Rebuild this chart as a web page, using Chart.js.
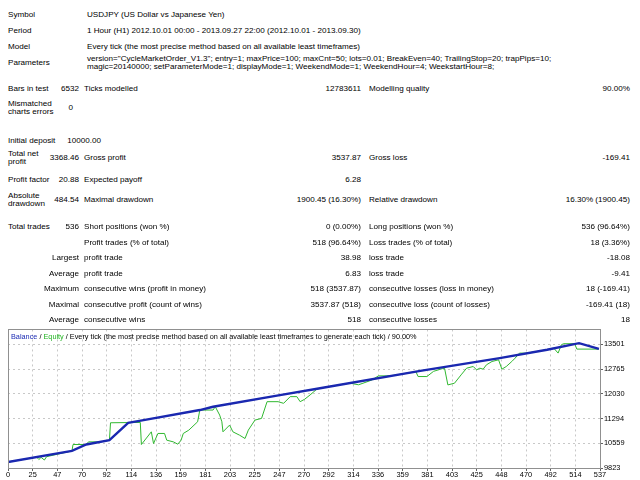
<!DOCTYPE html>
<html><head><meta charset="utf-8">
<script src="https://cdn.jsdelivr.net/npm/chart.js@4.4.1/dist/chart.umd.min.js"></script>
<style>
html,body{margin:0;padding:0;background:#fff;}
#page{position:relative;width:640px;height:480px;overflow:hidden;font-family:"Liberation Sans",Arial,sans-serif;font-size:8.1px;color:#000;}
.t{position:absolute;white-space:nowrap;line-height:10px;height:10px;}
#cv{position:absolute;left:0;top:324px;}
#title{position:absolute;left:11px;top:332px;font-size:7.3px;white-space:nowrap;line-height:10px;}
</style></head>
<body><div id="page"><canvas id="cv" width="640" height="156"></canvas>
<div id="title"><span style="color:#1c2cb4">Balance</span> / <span style="color:#22b422">Equity</span> / Every tick (the most precise method based on all available least timeframes to generate each tick) / 90.00%</div>
</div>
<script>
// ---- data ----
const xTickLabels = ["0","25","47","70","92","114","136","159","181","203","225","247","270","292","314","336","359","381","403","425","448","470","492","514","537"];
const yTickLabels = ["9823","10559","11294","12030","12765","13501"];
const balX = [0,58,71,92,109,123,174,186,244,283,374,446,489,518,536];
const balY = [10000,10331,10523,10651,11168,11249,11548,11647,11976,12197,12714,13094,13342,13538,13368];
const eqX = [0,20,24,26,28,30,33,35,58,59,71,73,84,92,93,120,121,130,132,136,142,144,150,154,157,159,164,172,174,186,188,192,194,195,201,204,210,215,218,224,230,235,245,250,256,262,265,269,274,280,283,310,313,318,322,330,336,343,350,370,372,380,386,394,396,399,405,411,416,422,425,428,431,434,439,445,448,452,457,460,464,470,489,495,499,502,504,514,516,536];
const eqY = [10000,10114,10137,10150,10075,10140,10060,10160,10331,10522,10523,10601,10601,10651,11169,11180,10522,10900,10552,10851,10851,10651,10601,10532,10651,10851,10950,11199,11548,11548,11648,11399,11199,10900,11100,10900,10801,10701,10950,11249,11299,11797,11797,11748,11947,11947,11797,11867,11997,12166,12197,12350,12330,12300,12346,12440,12565,12565,12580,12690,12545,12545,12700,12780,12794,12296,12346,12595,12794,12844,12744,12794,12764,12894,12993,13043,12764,12844,12993,13093,13243,13240,13342,13392,13243,13492,13522,13522,13362,13362];

// ---- table text ----
const page = document.getElementById('page');
function t(x, y, s, align){
  const d = document.createElement('div'); d.className='t'; d.textContent = s;
  d.style.top = (y-5)+'px';
  if(align==='r'){ d.style.right = (640-x)+'px'; } else { d.style.left = x+'px'; }
  page.appendChild(d);
}
const C0=8, C1=79, C2=84, C3=361, C4=369, C5=630, V=87;
t(C0,15,"Symbol"); t(V,15,"USDJPY (US Dollar vs Japanese Yen)");
t(C0,31,"Period"); t(V,31,"1 Hour (H1) 2012.10.01 00:00 - 2013.09.27 22:00 (2012.10.01 - 2013.09.30)");
t(C0,47,"Model"); t(V,47,"Every tick (the most precise method based on all available least timeframes)");
t(C0,63,"Parameters");
t(V,59,'version="CycleMarketOrder_V1.3"; entry=1; maxPrice=100; maxCnt=50; lots=0.01; BreakEven=40; TrailingStop=20; trapPips=10;');
t(V,67,'magic=20140000; setParameterMode=1; displayMode=1; WeekendMode=1; WeekendHour=4; WeekstartHour=8;');
t(C0,89,"Bars in test"); t(C1,89,"6532",'r'); t(C2,89,"Ticks modelled"); t(C3,89,"12783611",'r'); t(C4,89,"Modelling quality"); t(C5,89,"90.00%",'r');
t(C0,104,"Mismatched"); t(C0,112,"charts errors"); t(C1-6,108,"0",'r');
t(C0,141,"Initial deposit"); t(101,141,"10000.00",'r');
t(C0,154,"Total net"); t(C0,162,"profit"); t(C1,158,"3368.46",'r'); t(C2,158,"Gross profit"); t(C3,158,"3537.87",'r'); t(C4,158,"Gross loss"); t(C5,158,"-169.41",'r');
t(C0,180,"Profit factor"); t(C1,180,"20.88",'r'); t(C2,180,"Expected payoff"); t(C3,180,"6.28",'r');
t(C0,196,"Absolute"); t(C0,204,"drawdown"); t(C1,200,"484.54",'r'); t(C2,200,"Maximal drawdown"); t(C3,200,"1900.45 (16.30%)",'r'); t(C4,200,"Relative drawdown"); t(C5,200,"16.30% (1900.45)",'r');
t(C0,227,"Total trades"); t(C1,227,"536",'r'); t(C2,227,"Short positions (won %)"); t(C3,227,"0 (0.00%)",'r'); t(C4,227,"Long positions (won %)"); t(C5,227,"536 (96.64%)",'r');
t(C2,243,"Profit trades (% of total)"); t(C3,243,"518 (96.64%)",'r'); t(C4,243,"Loss trades (% of total)"); t(C5,243,"18 (3.36%)",'r');
t(C1,258,"Largest",'r'); t(C2,258,"profit trade"); t(C3,258,"38.98",'r'); t(C4,258,"loss trade"); t(C5,258,"-18.08",'r');
t(C1,274,"Average",'r'); t(C2,274,"profit trade"); t(C3,274,"6.83",'r'); t(C4,274,"loss trade"); t(C5,274,"-9.41",'r');
t(C1,289,"Maximum",'r'); t(C2,289,"consecutive wins (profit in money)"); t(C3,289,"518 (3537.87)",'r'); t(C4,289,"consecutive losses (loss in money)"); t(C5,289,"18 (-169.41)",'r');
t(C1,305,"Maximal",'r'); t(C2,305,"consecutive profit (count of wins)"); t(C3,305,"3537.87 (518)",'r'); t(C4,305,"consecutive loss (count of losses)"); t(C5,305,"-169.41 (18)",'r');
t(C1,320,"Average",'r'); t(C2,320,"consecutive wins"); t(C3,320,"518",'r'); t(C4,320,"consecutive losses"); t(C5,320,"18",'r');

// ---- chart ----
const X_MAX = 537, Y_MIN = 9823, Y_MAX = 13947;
const xStep = X_MAX/(xTickLabels.length-1);
const yStep = (13501-9823)/(yTickLabels.length-1);
const frame = {
  id:'frame',
  afterDraw(c){
    const a=c.chartArea, g=c.ctx; g.save();
    g.strokeStyle='#909090'; g.lineWidth=1;
    g.strokeRect(Math.round(a.left)+0.5, Math.round(a.top)+0.5, Math.round(a.right-a.left), Math.round(a.bottom-a.top));
    g.restore();
  }
};
new Chart(document.getElementById('cv'), {
  type:'line',
  data:{datasets:[
    {label:'Equity', data: eqX.map((x,i)=>({x, y:eqY[i]})), borderColor:'#30b830', borderWidth:1, pointRadius:0, tension:0, order:2},
    {label:'Balance', data: balX.map((x,i)=>({x, y:balY[i]})), borderColor:'#1a28b0', borderWidth:2.4, pointRadius:0, tension:0, order:1}
  ]},
  options:{
    responsive:false, animation:false, devicePixelRatio:1,
    layout:{padding:{left:8, top:5, right:0, bottom:0}},
    plugins:{legend:{display:false}, tooltip:{enabled:false}},
    scales:{
      x:{type:'linear', min:0, max:X_MAX,
        afterBuildTicks(s){ s.ticks = xTickLabels.map((l,i)=>({value:i*xStep})); },
        afterFit(s){ s.height = 12; },
        ticks:{autoSkip:false, maxRotation:0, padding:0, color:'#000', font:{family:'Liberation Sans', size:7.4},
          callback:(v,i)=>xTickLabels[i]},
        grid:{color:'#c8c8c8', tickLength:3, tickColor:'#606060', drawTicks:true},
        border:{display:true, color:'#707070', dash:[2,3]}
      },
      y:{type:'linear', position:'right', min:Y_MIN, max:Y_MAX,
        afterBuildTicks(s){ s.ticks = yTickLabels.map((l,i)=>({value:Y_MIN+i*yStep})); },
        afterFit(s){ s.width = 40; },
        ticks:{autoSkip:false, padding:1, color:'#000', font:{family:'Liberation Sans', size:7.4},
          callback:(v,i)=>yTickLabels[i]},
        grid:{color:'#c8c8c8', tickLength:3, tickColor:'#606060'},
        border:{display:true, color:'#707070', dash:[2,3]}
      }
    }
  },
  plugins:[frame]
});
</script></body></html>
